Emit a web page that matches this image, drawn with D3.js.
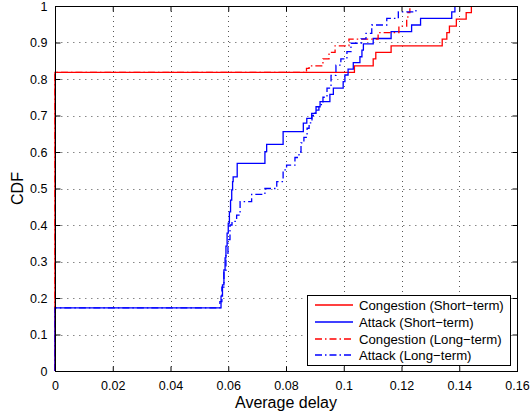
<!DOCTYPE html>
<html><head><meta charset="utf-8">
<script src="https://cdn.jsdelivr.net/npm/d3@7"></script>
<style>body{margin:0;background:#fff} text{font-family:"Liberation Sans",Arial,Helvetica,sans-serif}</style>
</head><body><svg id="c" width="530" height="414"></svg>
<script>
// ---- data ----
const xTicks = [0, 0.02, 0.04, 0.06, 0.08, 0.1, 0.12, 0.14, 0.16];
const yTicks = [0, 0.1, 0.2, 0.3, 0.4, 0.5, 0.6, 0.7, 0.8, 0.9, 1];
const xTickLabels = ["0", "0.02", "0.04", "0.06", "0.08", "0.1", "0.12", "0.14", "0.16"];
const yTickLabels = ["0", "0.1", "0.2", "0.3", "0.4", "0.5", "0.6", "0.7", "0.8", "0.9", "1"];
const seriesNames = ["Congestion (Short\u2212term)", "Attack (Short\u2212term)", "Congestion (Long\u2212term)", "Attack (Long\u2212term)"];

const congShortX = [0, 0, 0.1037, 0.1102, 0.1111, 0.1164, 0.1341, 0.1357, 0.1366, 0.1390, 0.1424, 0.1442];
const congShortY = [0, 0.818, 0.836, 0.855, 0.873, 0.891, 0.909, 0.927, 0.945, 0.964, 0.982, 1.0];

const attShortX = [0, 0, 0.0575, 0.0580, 0.0585, 0.0589, 0.0592, 0.0596, 0.0600, 0.0604, 0.0608, 0.0612, 0.0615, 0.0617,
  0.0631, 0.0727, 0.0733, 0.0790, 0.0860, 0.0872, 0.0889, 0.0904, 0.0918, 0.0952, 0.0964, 0.0998, 0.1004, 0.1015,
  0.1033, 0.1056, 0.1063, 0.1068, 0.1102, 0.1164, 0.1235, 0.1266, 0.1374, 0.1385];
const attShortY = [0, 0.173, 0.205, 0.236, 0.277, 0.310, 0.342, 0.378, 0.405, 0.436, 0.468, 0.496, 0.519, 0.532,
  0.569, 0.601, 0.621, 0.656, 0.679, 0.692, 0.706, 0.724, 0.738, 0.758, 0.775, 0.793, 0.811, 0.827,
  0.845, 0.861, 0.879, 0.896, 0.911, 0.930, 0.948, 0.966, 0.984, 1.0];

const congLongX = [0, 0, 0.0871, 0.0880, 0.0928, 0.0949, 0.0970, 0.1018, 0.1119, 0.1191, 0.1218, 0.1222, 0.1229];
const congLongY = [0, 0.818, 0.829, 0.836, 0.855, 0.873, 0.891, 0.909, 0.927, 0.945, 0.964, 0.982, 1.0];

const attLongX = [0, 0, 0.0571, 0.0578, 0.0585, 0.0592, 0.0599, 0.0606, 0.0613, 0.0629, 0.0641, 0.0681, 0.0727,
  0.0768, 0.0790, 0.0802, 0.0831, 0.0845, 0.0852, 0.0862, 0.0873, 0.0880, 0.0890, 0.0901, 0.0914, 0.0928, 0.0942,
  0.0956, 0.0973, 0.0990, 0.1011, 0.1025, 0.1060, 0.1077, 0.1097, 0.1149, 0.1189, 0.1250];
const attLongY = [0, 0.173, 0.19, 0.23, 0.27, 0.32, 0.36, 0.40, 0.41, 0.427, 0.464, 0.484, 0.50,
  0.519, 0.551, 0.564, 0.585, 0.60, 0.625, 0.64, 0.665, 0.68, 0.70, 0.715, 0.73, 0.75, 0.775,
  0.81, 0.838, 0.855, 0.875, 0.898, 0.91, 0.925, 0.948, 0.966, 0.984, 1.0];

const seriesColors = ["#ff0000", "#0000ff", "#ff0000", "#0000ff"];
const seriesDash = [null, null, "7,3,1.5,3", "7,3,1.5,3"];

// ---- chart ----
const svg = d3.select("#c");
const L = 55, T = 6, W = 462, H = 365;
const x = d3.scaleLinear().domain([0, 0.16]).range([L, L + W]);
const y = d3.scaleLinear().domain([0, 1]).range([T + H, T]);

// grid
const g = svg.append("g");
g.selectAll(".vg").data(xTicks.slice(1, -1)).join("line")
  .attr("x1", d => Math.round(x(d)) + 0.5).attr("x2", d => Math.round(x(d)) + 0.5)
  .attr("y1", T).attr("y2", T + H)
  .attr("stroke", "#555").attr("stroke-width", 1).attr("stroke-dasharray", "1,4");
g.selectAll(".hg").data(yTicks.slice(1, -1)).join("line")
  .attr("y1", d => Math.round(y(d)) + 0.5).attr("y2", d => Math.round(y(d)) + 0.5)
  .attr("x1", L).attr("x2", L + W)
  .attr("stroke", "#888").attr("stroke-width", 1).attr("stroke-dasharray", "1.5,4.5");

// series
const datasets = [
  d3.zip(congShortX, congShortY),
  d3.zip(attShortX, attShortY),
  d3.zip(congLongX, congLongY),
  d3.zip(attLongX, attLongY)
];
const line = d3.line().x(d => x(d[0])).y(d => y(d[1])).curve(d3.curveStepAfter);
datasets.forEach((ds, i) => {
  svg.append("path").datum(ds).attr("d", line)
    .attr("fill", "none").attr("stroke", seriesColors[i]).attr("stroke-width", 1.3)
    .attr("stroke-dasharray", seriesDash[i]);
});

// axes (ticks inward)
const fs = 12.5;
const xa = svg.append("g").attr("transform", `translate(0,${T + H + 0.5})`)
  .call(d3.axisBottom(x).tickValues(xTicks).tickFormat((d, i) => xTickLabels[i]).tickSize(-5).tickPadding(10));
const ya = svg.append("g").attr("transform", `translate(${L + 0.5},0)`)
  .call(d3.axisLeft(y).tickValues(yTicks).tickFormat((d, i) => yTickLabels[i]).tickSize(-5).tickPadding(8));
const xt = svg.append("g").attr("transform", `translate(0,${T + 0.5})`)
  .call(d3.axisTop(x).tickValues(xTicks).tickFormat("").tickSize(-5));
const yr = svg.append("g").attr("transform", `translate(${L + W + 0.5},0)`)
  .call(d3.axisRight(y).tickValues(yTicks).tickFormat("").tickSize(-5));
[xa, ya, xt, yr].forEach(a => {
  a.select(".domain").remove();
  a.selectAll("line").attr("stroke", "#000");
  a.selectAll("text").attr("font-size", fs).attr("fill", "#000")
    .style("font-family", "'Liberation Sans',Arial,sans-serif");
});
svg.append("rect").attr("x", L + 0.5).attr("y", T + 0.5).attr("width", W).attr("height", H)
  .attr("fill", "none").attr("stroke", "#000").attr("stroke-width", 1);

// axis labels
svg.append("text").attr("x", x(0.08)).attr("y", 408).attr("text-anchor", "middle")
  .attr("font-size", 16).text("Average delay");
svg.append("text").attr("transform", `translate(23,${y(0.5)}) rotate(-90)`).attr("text-anchor", "middle")
  .attr("font-size", 16).text("CDF");

// legend
const lg = svg.append("g");
lg.append("rect").attr("x", 307.5).attr("y", 295.5).attr("width", 203).attr("height", 70)
  .attr("fill", "#fff").attr("stroke", "#000").attr("stroke-width", 1);
const rows = [305, 322, 339, 355];
seriesNames.forEach((n, i) => {
  lg.append("line").attr("x1", 315).attr("x2", 353).attr("y1", rows[i]).attr("y2", rows[i])
    .attr("stroke", seriesColors[i]).attr("stroke-width", 1.3).attr("stroke-dasharray", seriesDash[i]);
  lg.append("text").attr("x", 359).attr("y", rows[i] + 4.5).attr("font-size", 13.2).text(n);
});
</script>
</body></html>
